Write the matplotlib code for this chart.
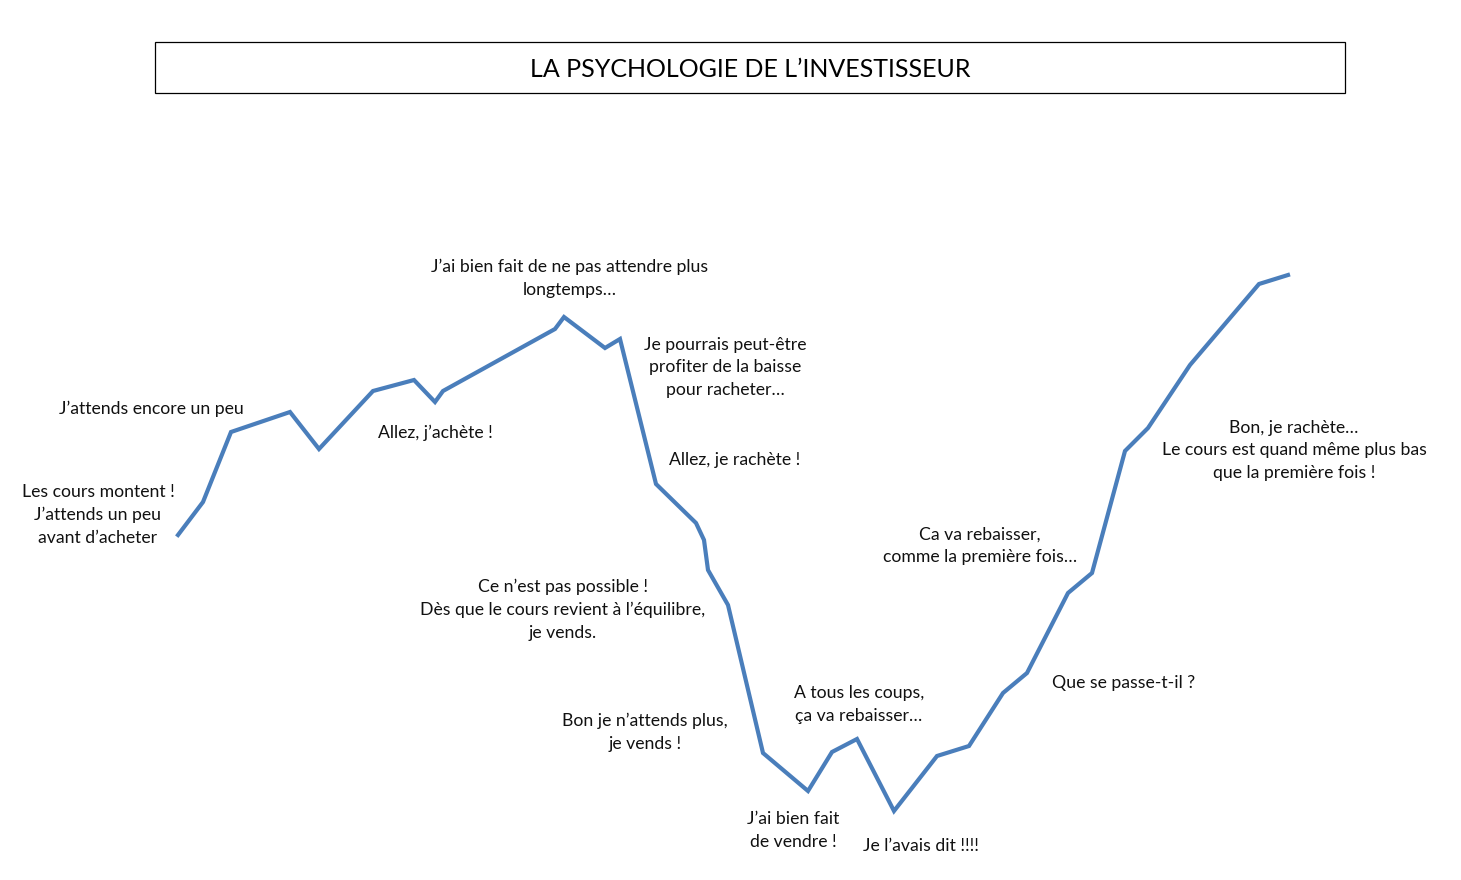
import matplotlib
matplotlib.use("Agg")
import matplotlib.pyplot as plt
from matplotlib.patches import Rectangle

plt.rcParams["font.family"] = ["Lato", "DejaVu Sans"]

# courbe du cours (temps, cours)
temps = [178, 203, 231, 290, 319, 373, 414, 435, 443, 555, 564, 605, 620,
         656, 696, 704, 708, 728, 763, 808, 832, 857, 894, 937, 969, 1003,
         1027, 1068, 1092, 1125, 1148, 1190, 1259, 1288]
cours = [345, 378, 448, 468, 431, 489, 500, 478, 489, 551, 563, 532, 541,
         396, 357, 340, 310, 275, 127, 89, 128, 141, 69, 124, 134, 187,
         207, 287, 307, 429, 452, 515, 596, 605]

titre = "LA PSYCHOLOGIE DE L’INVESTISSEUR"

# bulles de texte : (texte, temps, cours)
pensees = [
    ("Les cours montent !\nJ’attends un peu\navant d’acheter", 98, 365),
    ("J’attends encore un peu", 151, 471),
    ("J’ai bien fait de ne pas attendre plus\nlongtemps…", 570, 601.5),
    ("Allez, j’achète !", 435, 447),
    ("Je pourrais peut-être\nprofiter de la baisse\npour racheter…", 725, 513),
    ("Allez, je rachète !", 735, 420),
    ("Ce n’est pas possible !\nDès que le cours revient à l’équilibre,\nje vends.", 563, 270),
    ("Bon je n’attends plus,\nje vends !", 645, 147.5),
    ("A tous les coups,\nça va rebaisser…", 859, 175.5),
    ("J’ai bien fait\nde vendre !", 793, 49.5),
    ("Je l’avais dit !!!!", 921, 34),
    ("Ca va rebaisser,\ncomme la première fois…", 980, 334),
    ("Que se passe-t-il ?", 1124, 197),
    ("Bon, je rachète…\nLe cours est quand même plus bas\nque la première fois !", 1294, 430),
]

fig = plt.figure(figsize=(14.61, 8.80), dpi=100)
ax = fig.add_axes([0, 0, 1, 1])
ax.set_xlim(0, 1461)
ax.set_ylim(0, 880)
ax.axis("off")

ax.plot(temps, cours, color="#4A7EBB", linewidth=3.0, solid_joinstyle="miter")

for txt, x, y in pensees:
    ax.text(x, y, txt, ha="center", va="center", multialignment="center",
            fontsize=12.7, color="#111111", linespacing=1.5)

# cadre du titre
ax.add_patch(Rectangle((155, 787), 1190, 51, fill=False, edgecolor="black", linewidth=0.9))
ax.text(750, 811, titre, ha="center", va="center", fontsize=18, color="black")

fig.savefig("out.png", dpi=100, facecolor="white")
